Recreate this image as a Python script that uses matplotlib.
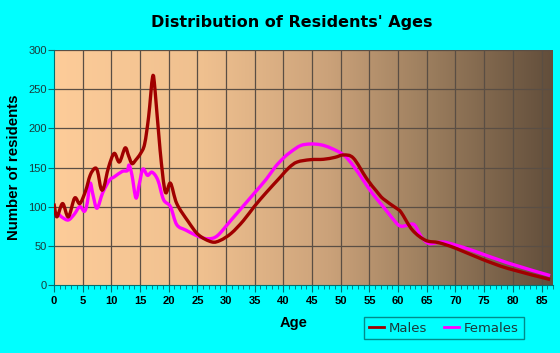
import numpy as np
import matplotlib
matplotlib.use("Agg")
import matplotlib.pyplot as plt
from matplotlib.colors import LinearSegmentedColormap
from matplotlib.path import Path
from matplotlib.patches import PathPatch
from matplotlib.lines import Line2D

male_age = [0, 0.5, 1.5, 2.5, 3.6, 4.5, 5.5, 6.3, 7.1, 7.6, 8.2, 8.7, 9.5, 10.5, 11.4, 12.4, 13.0, 13.6,
            14.3, 15.1, 15.8, 16.5, 17.2, 17.6, 18.5, 19.4, 20.3, 21.4, 23.4, 25.2, 27.5, 29, 30.9, 33,
            34.9, 37, 39.5, 41, 42.4, 44.7, 47, 49, 50.5, 52.2, 54.5, 56.2, 57.4, 59.7, 60.5, 62.5, 64.8,
            67.1, 70, 74.6, 79.2, 86.5]
male_val = [104, 87, 104, 87, 111, 104, 120, 140, 149, 145, 123, 125, 150, 168, 157, 175, 165, 155,
            160, 168, 180, 215, 266, 250, 172, 119, 130, 104, 81, 64, 55, 57, 66, 82,
            100, 118, 138, 150, 157, 160, 160.5, 163, 166, 162, 136, 120, 110, 98, 93, 70, 57,
            54, 47, 33, 21, 7]

female_age = [0, 0.6, 1.5, 2.5, 3.5, 4.5, 5.3, 5.8, 6.3, 6.8, 7.5, 8.5, 9.7, 10.5, 11.9, 12.8, 13.1, 13.6,
              14.3, 14.9, 15.5, 16.3, 17.1, 18.1, 19.1, 20.3, 21.4, 23, 25.2, 26.9, 28.5, 30.9, 32.9,
              34.9, 37, 38.6, 40, 41.3, 43, 44.7, 46.5, 48.2, 50.5, 52.2, 53.9, 55.5, 57.4, 59.7, 60.5,
              61.5, 62.8, 64, 65.4, 67.7, 70, 73.4, 79.2, 86.5]
female_val = [87, 91, 86, 83, 90, 100, 94, 105, 130, 115, 98, 118, 134, 138, 145, 146, 153, 140,
              111, 130, 148, 140, 144, 134, 109, 100, 77, 70, 62, 59, 63, 83, 100,
              117, 135, 151, 162, 170, 178, 180, 179, 175, 166, 152, 134, 117, 100, 79, 75,
              76, 77, 62, 53, 55, 51, 43, 28, 12]

x_ticks = list(range(0, 90, 5))
y_ticks = list(range(0, 350, 50))

CYAN = "#00FFFF"
TEAL = "#007070"
MALE_C = "#A00000"
FEMALE_C = "#FF00FF"


def smooth_path(xs, ys):
    """Cubic Bezier path through the points (Catmull-Rom style control points)."""
    p = np.column_stack([xs, ys]).astype(float)
    n = len(p)
    verts = [p[0]]
    codes = [Path.MOVETO]
    for i in range(n - 1):
        p0 = p[i - 1] if i > 0 else p[i]
        p1 = p[i]
        p2 = p[i + 1]
        p3 = p[i + 2] if i + 2 < n else p[i + 1]
        d1 = (p2 - p0) / 6.0
        d2 = (p3 - p1) / 6.0
        seg = p2[0] - p1[0]
        if d1[0] > 0:
            d1 = d1 * min(1.0, seg / (2 * d1[0] + 1e-9) * 0.9)
        if d2[0] > 0:
            d2 = d2 * min(1.0, seg / (2 * d2[0] + 1e-9) * 0.9)
        verts += [p1 + d1, p2 - d2, p2]
        codes += [Path.CURVE4] * 3
    return Path(verts, codes)


fig = plt.figure(figsize=(5.6, 3.53), dpi=100, facecolor=CYAN)
ax = fig.add_axes([54/560, 1-285/353, (553-54)/560, (285-50)/353])
ax.set_xlim(0, 87)
ax.set_ylim(0, 300)

cmap = LinearSegmentedColormap.from_list("bg", [
    (0.0, "#FDCC99"), (0.3, "#EFC08F"), (0.55, "#CBA27A"),
    (0.75, "#9C7E5E"), (1.0, "#624E3B")])
grad = np.linspace(0, 1, 256).reshape(1, -1)
ax.imshow(grad, cmap=cmap, aspect="auto", extent=[0, 87, 0, 300], zorder=0)

for xt in x_ticks[1:]:
    ax.axvline(xt, color="#5a4e44", lw=0.9, zorder=1)
for yt in y_ticks[1:]:
    ax.axhline(yt, color="#5a4e44", lw=0.9, zorder=1)

ax.add_patch(PathPatch(smooth_path(female_age, female_val), facecolor="none",
                       edgecolor=FEMALE_C, lw=2.4, zorder=2, joinstyle="round", capstyle="butt"))
ax.add_patch(PathPatch(smooth_path(male_age, male_val), facecolor="none",
                       edgecolor=MALE_C, lw=2.4, zorder=3, joinstyle="round", capstyle="butt"))

ax.set_xticks(x_ticks)
ax.set_xticks(range(0, 88), minor=True)
ax.set_yticks(y_ticks)
ax.tick_params(axis="x", which="major", length=5, color=TEAL, labelsize=8, pad=3)
ax.tick_params(axis="x", which="minor", length=3, color=TEAL)
ax.tick_params(axis="y", length=4, color=TEAL, labelsize=8, labelcolor="#1a3a3a", pad=1)
for lbl in ax.get_xticklabels():
    lbl.set_fontweight("bold")
    lbl.set_family("Liberation Sans")
for lbl in ax.get_yticklabels():
    lbl.set_family("Liberation Sans")

for side in ["top", "right"]:
    ax.spines[side].set_visible(False)
ax.spines["left"].set_color(TEAL)
ax.spines["bottom"].set_color(TEAL)

fig.text(292/560, 1-23/353, "Distribution of Residents' Ages", ha="center", va="center",
         fontsize=11.5, fontweight="bold", family="DejaVu Sans")
fig.text(14/560, 1-167/353, "Number of residents", rotation=90, ha="center", va="center",
         fontsize=10.8, fontweight="bold", family="Liberation Sans")
fig.text(294/560, 1-323/353, "Age", ha="center", va="center",
         fontsize=10.5, fontweight="bold", family="Liberation Sans")

handles = [Line2D([], [], color=MALE_C, lw=2), Line2D([], [], color=FEMALE_C, lw=2)]
leg = fig.legend(handles, ["Males", "Females"], loc="center",
                 bbox_to_anchor=(444/560, 1-328/353), ncol=2,
                 frameon=True, fancybox=False, handlelength=1.1, handletextpad=0.4,
                 columnspacing=1.3, prop={"family": "DejaVu Sans", "size": 9.5},
                 borderpad=0.35)
leg.get_frame().set_facecolor(CYAN)
leg.get_frame().set_edgecolor(TEAL)
leg.get_frame().set_linewidth(1.0)
for t in leg.get_texts():
    t.set_color("#1a3a3a")

fig.savefig("out.png", dpi=100, facecolor=CYAN)
